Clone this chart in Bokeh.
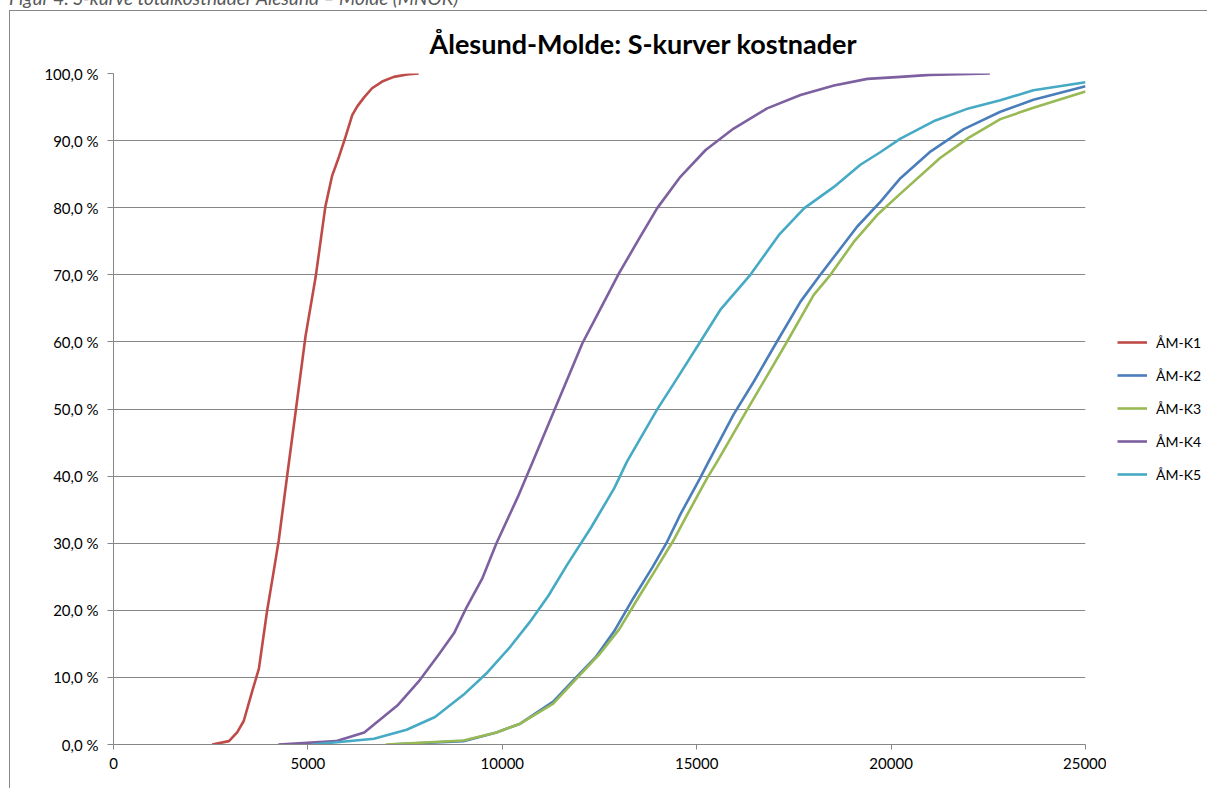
from bokeh.plotting import figure
from bokeh.models import Legend, LegendItem, FixedTicker, Range1d, Div, Spacer
from bokeh.layouts import row, column
from bokeh.embed import file_html
from bokeh.resources import INLINE

# ---- data ----
series_names = ["ÅM-K1", "ÅM-K2", "ÅM-K3", "ÅM-K4", "ÅM-K5"]
series_colors = ["#BE4B48", "#4A7EBB", "#98B954", "#7D60A0", "#46AAC5"]

k1_x = [2540, 2970, 3180, 3350, 3570, 3740, 3950, 4120, 4250, 4470, 4680, 4940, 5200, 5390, 5450, 5620, 5800, 5970, 6140, 6270, 6440, 6650, 6910, 7210, 7550, 7850]
k1_y = [0, 0.5, 1.8, 3.5, 8, 11.3, 19.9, 25.8, 30.4, 40.2, 49.4, 60.9, 69.7, 77.7, 80.2, 84.7, 87.6, 90.6, 93.8, 95.1, 96.4, 97.8, 98.8, 99.5, 99.85, 100]

k2_x = [7100, 9000, 9850, 10460, 11310, 11850, 12400, 12880, 13370, 13860, 14220, 14580, 15070, 15310, 15950, 16470, 17070, 17670, 18180, 19130, 19730, 20240, 21020, 21870, 22810, 23660, 25000]
k2_y = [0, 0.5, 1.8, 3.1, 6.4, 9.7, 13.0, 16.9, 21.8, 26.4, 30.0, 34.3, 39.5, 42.2, 49.2, 54.1, 60.1, 66.0, 70.0, 77.2, 80.9, 84.4, 88.4, 91.7, 94.3, 96.1, 98.1]

k3_x = [7000, 9000, 9850, 10460, 11310, 11890, 12520, 13010, 13490, 13980, 14400, 14760, 15250, 15530, 16300, 17330, 18010, 18440, 19040, 19640, 20240, 21260, 21990, 22810, 23660, 25000]
k3_y = [0, 0.6, 1.8, 3.1, 6.1, 9.7, 13.6, 17.2, 21.8, 26.4, 30.4, 34.3, 39.5, 42.2, 49.9, 60.1, 67.0, 70.0, 74.9, 78.9, 82.1, 87.4, 90.4, 93.2, 94.9, 97.3]

k4_x = [4240, 5720, 6450, 7300, 7850, 8390, 8760, 9060, 9490, 9850, 10400, 10810, 11330, 12060, 12530, 13000, 13470, 13980, 14580, 15230, 15950, 16810, 17670, 18530, 19390, 20240, 21000, 22540]
k4_y = [0, 0.5, 1.8, 5.8, 9.4, 13.6, 16.6, 20.2, 24.8, 30.0, 36.9, 42.5, 49.7, 59.8, 65.0, 70.2, 74.9, 79.9, 84.6, 88.6, 91.8, 94.8, 96.8, 98.2, 99.2, 99.5, 99.8, 100]

k5_x = [5120, 6700, 7540, 8270, 9000, 9610, 10210, 10700, 11190, 11670, 12280, 12880, 13210, 13980, 14500, 15100, 15610, 16380, 17110, 17760, 18530, 19210, 19730, 20240, 21140, 21990, 22810, 23660, 25000]
k5_y = [0, 0.85, 2.2, 4.1, 7.4, 10.7, 14.6, 18.2, 22.2, 26.8, 32.3, 38.2, 42.2, 49.9, 54.6, 60.1, 64.8, 70.0, 75.9, 79.9, 83.1, 86.4, 88.3, 90.3, 93.0, 94.8, 96.0, 97.5, 98.7]

x_ticks = [0, 5000, 10000, 15000, 20000, 25000]
x_tick_labels = ["0", "5000", "10000", "15000", "20000", "25000"]
y_ticks = [0, 10, 20, 30, 40, 50, 60, 70, 80, 90, 100]
y_tick_labels = ["0,0 %", "10,0 %", "20,0 %", "30,0 %", "40,0 %", "50,0 %", "60,0 %", "70,0 %", "80,0 %", "90,0 %", "100,0 %"]

title_text = "Ålesund-Molde: S-kurver kostnader"
caption_text = "Figur 4: S-kurve totalkostnader Ålesund \u2013 Molde (MNOK)"

FONT = "Lato"
GRID = "#868686"
BORDER = "1px solid #878787"

xs = [k1_x, k2_x, k3_x, k4_x, k5_x]
ys = [k1_y, k2_y, k3_y, k4_y, k5_y]

# ---- main chart ----
p = figure(width=1097, height=778, output_backend="svg", toolbar_location=None,
           x_range=Range1d(0, 25000), y_range=Range1d(0, 100),
           min_border_left=103, min_border_right=22, min_border_top=61, min_border_bottom=45)
p.styles = {"border-left": BORDER, "border-top": BORDER}

p.title.text = title_text
p.title.text_font = FONT
p.title.text_font_size = "27px"
p.title.text_font_style = "bold"
p.title.align = "left"
p.title.offset = 316
p.title.standoff = 27
p.title.text_color = "#000000"

p.outline_line_color = None
p.background_fill_color = "white"
p.border_fill_color = "white"

p.xaxis.ticker = FixedTicker(ticks=x_ticks)
p.xaxis.major_label_overrides = dict(zip(x_ticks, x_tick_labels))
p.yaxis.ticker = FixedTicker(ticks=y_ticks)
p.yaxis.major_label_overrides = dict(zip(y_ticks, y_tick_labels))
for ax in (p.xaxis, p.yaxis):
    ax.axis_line_color = GRID
    ax.major_tick_line_color = GRID
    ax.minor_tick_line_color = None
    ax.major_tick_in = 0
    ax.major_label_text_font = FONT
    ax.major_label_text_font_size = "15px"
    ax.major_label_text_color = "#000000"
p.xaxis.major_tick_out = 5
p.yaxis.major_tick_out = 6
p.xaxis.major_label_standoff = 8
p.yaxis.major_label_standoff = 9

p.xgrid.grid_line_color = None
p.ygrid.grid_line_color = GRID
p.ygrid.grid_line_width = 1

for color, x, y in zip(series_colors, xs, ys):
    p.line(x, y, line_color=color, line_width=2.6, line_join="round")

# ---- legend panel (separate small canvas to the right of the chart) ----
p_leg = figure(width=101, height=778, output_backend="svg", toolbar_location=None,
               x_range=Range1d(0, 1), y_range=Range1d(0, 1),
               x_axis_location=None, y_axis_location=None, min_border=0)
p_leg.styles = {"border-top": BORDER}
p_leg.grid.visible = False
p_leg.outline_line_color = None
p_leg.background_fill_color = "white"
p_leg.border_fill_color = "white"

items = []
for name, color, x, y in zip(series_names, series_colors, xs, ys):
    r = p_leg.line(x, y, line_color=color, line_width=2.6)
    items.append(LegendItem(label=name, renderers=[r]))

legend = Legend(items=items, location=(11, 260), orientation="vertical",
                glyph_width=30, glyph_height=20, label_height=20, spacing=13,
                padding=0, margin=0, label_standoff=9,
                label_text_font=FONT, label_text_font_size="14px", label_text_color="#000000",
                border_line_color=None, background_fill_alpha=0)
p_leg.add_layout(legend, "center")

# ---- caption (cut off at the top edge, as in the source page) ----
cap = Div(text=caption_text, width=1199, height=22, margin=(-12, 0, 0, 9),
          styles={"font-family": "Lato", "font-style": "italic", "font-size": "19px",
                  "line-height": "19px", "color": "#595959", "white-space": "nowrap",
                  "overflow": "hidden"})

layout = column(cap, row(Spacer(width=9, height=778), p, p_leg))

open("out.html", "w").write(file_html(layout, INLINE))
